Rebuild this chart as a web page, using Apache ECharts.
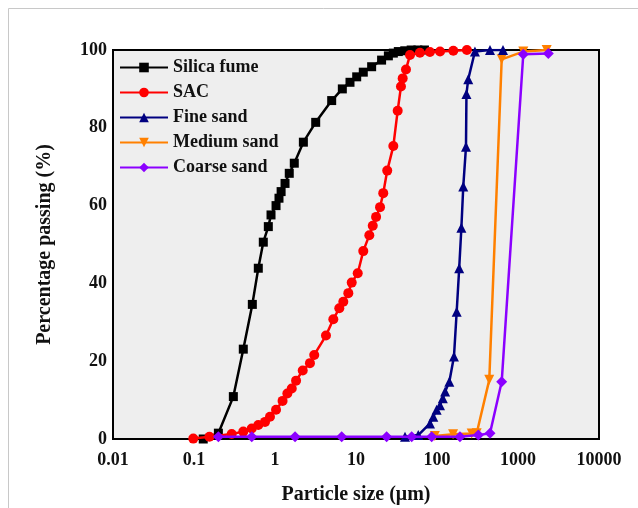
<!DOCTYPE html>
<html><head><meta charset="utf-8">
<script src="https://cdn.jsdelivr.net/npm/echarts@6/dist/echarts.min.js"></script>
<style>html,body{margin:0;padding:0;background:#fff}#c{width:638px;height:508px}</style>
</head><body><div id="c"></div>
<script>
const seriesNames = ['Silica fume', 'SAC', 'Fine sand', 'Medium sand', 'Coarse sand'];
const xTickLabels = ['0.01', '0.1', '1', '10', '100', '1000', '10000'];
const yTickLabels = ['0', '20', '40', '60', '80', '100'];

const silicaFume = [
  [0.13, 0], [0.20, 1.5], [0.306, 10.9], [0.406, 23.1], [0.525, 34.6], [0.622, 43.9],
  [0.717, 50.6], [0.827, 54.6], [0.893, 57.6], [1.03, 60.0], [1.12, 61.9], [1.19, 63.6],
  [1.33, 65.7], [1.50, 68.3], [1.73, 70.9], [2.24, 76.3], [3.18, 81.4], [5.01, 87.0],
  [6.78, 90.0], [8.43, 91.7], [10.2, 93.1], [12.3, 94.3], [15.6, 95.7], [20.7, 97.4],
  [25.1, 98.5], [28.9, 99.2], [33.3, 99.6], [40, 99.8], [48, 100], [58, 100], [70, 100]
];
const sac = [
  [0.098, 0.1], [0.155, 0.6], [0.292, 1.3], [0.406, 1.9], [0.516, 2.7], [0.622, 3.6],
  [0.753, 4.4], [0.867, 5.7], [1.03, 7.5], [1.24, 9.8], [1.42, 11.7], [1.61, 13.0],
  [1.82, 15.0], [2.20, 17.6], [2.70, 19.5], [3.05, 21.6], [4.26, 26.6], [5.25, 30.8],
  [6.22, 33.6], [6.97, 35.3], [8.04, 37.5], [8.85, 40.2], [10.5, 42.6], [12.3, 48.3],
  [14.6, 52.4], [16.1, 54.8], [17.7, 57.1], [19.8, 59.6], [21.7, 63.2], [24.3, 69.0],
  [28.9, 75.3], [32.7, 84.4], [35.9, 90.6], [37.7, 92.7], [41.4, 95.0], [46.4, 98.7],
  [61.5, 99.3], [81.8, 99.5], [109, 99.6], [159, 99.8], [234, 100]
];
const fineSand = [
  [40.3, 0.6], [58.7, 1.0], [82, 4.0], [90, 5.7], [99, 7.5], [109, 8.7], [118, 10.5],
  [126, 12.2], [142, 14.7], [162, 21.2], [175, 32.7], [188, 43.9], [200, 54.3],
  [211, 64.9], [228, 75.1], [231, 88.7], [243, 92.5], [294, 99.6], [451, 100], [653, 100]
];
const mediumSand = [
  [94, 0.8], [158, 1.2], [268, 1.4], [309, 1.5], [442, 15.2], [629, 97.6], [1162, 99.6], [2260, 100]
];
const coarseSand = [
  [0.20, 0.6], [0.516, 0.6], [1.77, 0.6], [6.66, 0.6], [23.9, 0.6], [48.7, 0.6], [86, 0.6],
  [192, 0.6], [324, 1.0], [451, 1.5], [629, 14.7], [1162, 98.9], [2366, 99.1]
];

const chart = echarts.init(document.getElementById('c'), null, {renderer: 'canvas'});
const font = 'Liberation Serif';
function mk(name, data, color, symbol, size, rot, z) {
  return {
    name: name, type: 'line', data: data, symbol: symbol, symbolSize: size,
    symbolRotate: rot, z: z,
    lineStyle: {color: color, width: 2.5},
    itemStyle: {color: color},
    emphasis: {disabled: true},
    animation: false
  };
}
chart.setOption({
  backgroundColor: '#ffffff',
  animation: false,
  graphic: [{
    type: 'rect', shape: {x: 8.5, y: 8.5, width: 700, height: 600},
    style: {fill: 'none', stroke: '#c8c8c8', lineWidth: 1}, z: -10
  }],
  grid: {left: 113, right: 39, top: 50, bottom: 69, show: true, backgroundColor: '#eeeeee',
         borderColor: '#000', borderWidth: 2, containLabel: false, outerBoundsMode: 'none'},
  legend: {
    orient: 'vertical', left: 114, top: 52, itemWidth: 48, itemHeight: 12, itemGap: 4,
    textStyle: {fontFamily: font, fontWeight: 'bold', fontSize: 18, color: '#111', lineHeight: 21},
    data: seriesNames
  },
  xAxis: {
    type: 'log', logBase: 10, min: 0.01, max: 10000,
    name: 'Particle size (\u03bcm)', nameLocation: 'middle', nameGap: 46,
    nameTextStyle: {fontFamily: font, fontWeight: 'bold', fontSize: 20, color: '#111'},
    axisLine: {show: false}, axisTick: {show: false}, splitLine: {show: false},
    axisLabel: {fontFamily: font, fontWeight: 'bold', fontSize: 18, color: '#111', margin: 12,
      formatter: function (v) {
        const i = Math.round(Math.log10(v)) + 2;
        return xTickLabels[i] !== undefined ? xTickLabels[i] : '';
      }}
  },
  yAxis: {
    type: 'value', min: 0, max: 100, interval: 20,
    name: 'Percentage passing (%)', nameLocation: 'middle', nameGap: 58,
    nameTextStyle: {fontFamily: font, fontWeight: 'bold', fontSize: 20, color: '#111'},
    axisLine: {show: false}, axisTick: {show: false}, splitLine: {show: false},
    axisLabel: {fontFamily: font, fontWeight: 'bold', fontSize: 18, color: '#111', margin: 6,
      formatter: function (v) { return yTickLabels[Math.round(v / 20)]; }}
  },
  series: [
    mk(seriesNames[0], silicaFume, '#000000', 'rect', 9, 0, 3),
    mk(seriesNames[1], sac, '#ff0000', 'circle', 10, 0, 4),
    mk(seriesNames[2], fineSand, '#000080', 'triangle', 10, 0, 4),
    mk(seriesNames[3], mediumSand, '#ff8000', 'triangle', 10, 180, 3),
    mk(seriesNames[4], coarseSand, '#8b00ff', 'diamond', 11, 0, 5)
  ]
});
</script></body></html>
